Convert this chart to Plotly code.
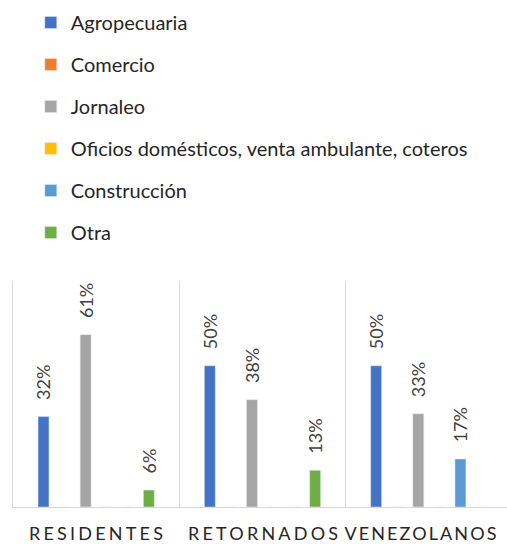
import plotly.graph_objects as go

categories = ["RESIDENTES", "RETORNADOS", "VENEZOLANOS"]
series_names = ["Agropecuaria", "Comercio", "Jornaleo",
                "Oficios domésticos, venta ambulante, coteros",
                "Construcción", "Otra"]
agropecuaria = [32, 50, 50]
comercio = [0, 0, 0]
jornaleo = [61, 38, 33]
oficios = [0, 0, 0]
construccion = [0, 0, 17]
otra = [6, 13, 0]
series_values = [agropecuaria, comercio, jornaleo, oficios, construccion, otra]
colors = ["#4472C4", "#ED7D31", "#A5A5A5", "#FFC000", "#5B9BD5", "#70AD47"]
label_shift = [1, 2, -7]

FONT = "Lato"
fig = go.Figure()
for i, (name, vals, col) in enumerate(zip(series_names, series_values, colors)):
    fig.add_trace(go.Bar(
        x=categories, y=vals, name=name, marker_color=col,
        legendgroup=f"g{i}",
        text=[("\u2002 " + f"{v}%") if v else "" for v in vals],
        textposition="outside", textangle=-90, constraintext="none",
        textfont=dict(family=FONT, size=18, color="#404040"),
        cliponaxis=False,
    ))

for cat, sh in zip(categories, label_shift):
    fig.add_annotation(x=cat, y=0, xref="x", yref="y", yanchor="top",
                       yshift=-14, xshift=sh, text=cat, showarrow=False,
                       borderpad=0,
                       font=dict(family=FONT, size=18, color="#262626"))

fig.update_layout(
    width=507, height=544,
    margin=dict(l=13, r=0, t=281, b=37, autoexpand=False),
    paper_bgcolor="white", plot_bgcolor="white",
    barmode="group", bargap=0.24, bargroupgap=0.48,
    font=dict(family=FONT, size=19, color="#262626"),
    legend=dict(x=0.036, xanchor="left", y=2.23, yanchor="top",
                tracegroupgap=13, font=dict(size=20, color="#262626"),
                bgcolor="rgba(0,0,0,0)"),
    xaxis=dict(range=[-0.5, 2.47], tickson="boundaries", showgrid=True,
               gridcolor="#d9d9d9", gridwidth=1, showline=True,
               linecolor="#d9d9d9", linewidth=1, ticks="",
               showticklabels=False, automargin=False),
    yaxis=dict(range=[0, 80], showgrid=False, zeroline=False,
               showticklabels=False, showline=True, linecolor="#d9d9d9",
               linewidth=1, ticks="", automargin=False),
)

post = """
document.body.style.margin = '0';
var s = document.createElement('style');
s.innerHTML = 'body { margin: 0; } '
  + '.annotation-text { letter-spacing: 3.2px; } '
  + '.annotation[data-index="2"] .annotation-text { letter-spacing: 2.1px; }';
document.head.appendChild(s);
"""
fig.write_html("out.html", post_script=post,
               config={"displayModeBar": False})
